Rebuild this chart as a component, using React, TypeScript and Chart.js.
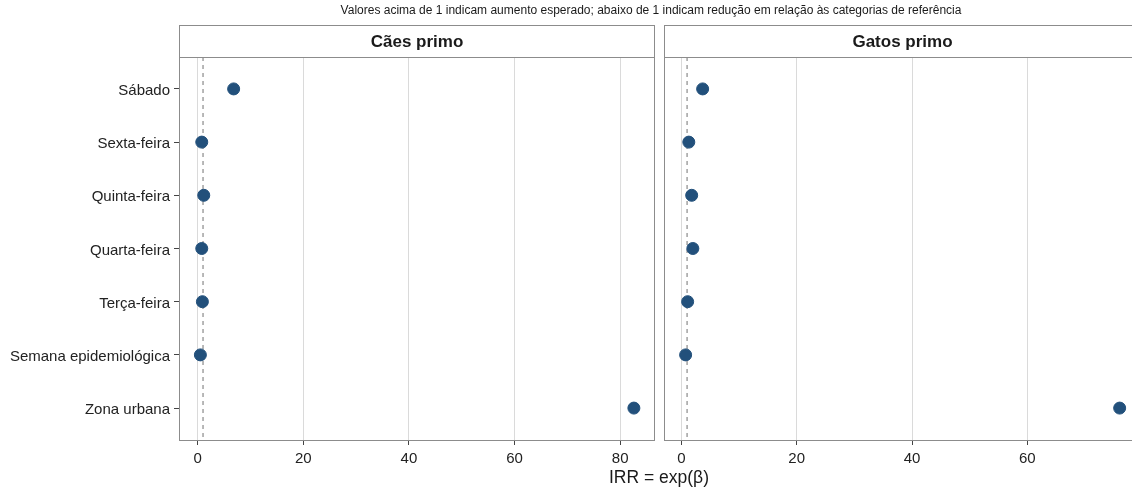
import React, { useEffect, useRef } from "react";
import { Chart, registerables } from "chart.js";

Chart.register(...registerables);

const categories = [
  "Sábado",
  "Sexta-feira",
  "Quinta-feira",
  "Quarta-feira",
  "Terça-feira",
  "Semana epidemiológica",
  "Zona urbana",
];
const caesIRR = [6.8, 0.76, 1.14, 0.76, 0.88, 0.5, 82.6];
const gatosIRR = [3.7, 1.3, 1.8, 2.0, 1.1, 0.75, 76.0];
const panelTitles = ["Cães primo", "Gatos primo"];
const referenceIRR = 1;
const plotTitle =
  "Valores acima de 1 indicam aumento esperado; abaixo de 1 indicam redução em relação às categorias de referência";
const xTitle = "IRR = exp(β)";

const FONT = '"Liberation Sans", Arial, Helvetica, sans-serif';
const CANVAS_W = 1160;
const CANVAS_H = 491;

function makePanel(
  canvas: HTMLCanvasElement,
  values: number[],
  stripTitle: string,
  opts: {
    left: number;
    right: number;
    xmin: number;
    xmax: number;
    showY: boolean;
    drawTitles: boolean;
  }
) {
  const panelPlugin = {
    id: "panelDeco",
    afterDraw(chart: any) {
      const { ctx, chartArea } = chart;
      const { left, right, top, bottom } = chartArea;
      ctx.save();
      // panel border
      ctx.strokeStyle = "#8c8c8c";
      ctx.lineWidth = 1;
      ctx.strokeRect(left + 0.5, top + 0.5, right - left - 1, bottom - top);
      // strip
      const sTop = 25;
      ctx.fillStyle = "#ffffff";
      ctx.fillRect(left, sTop, right - left, top - sTop);
      ctx.strokeRect(left + 0.5, sTop + 0.5, right - left - 1, top - sTop);
      ctx.fillStyle = "#1a1a1a";
      ctx.font = `bold 17px ${FONT}`;
      ctx.textAlign = "center";
      ctx.textBaseline = "middle";
      ctx.fillText(stripTitle, (left + right) / 2, (sTop + top) / 2 + 1);
      if (opts.drawTitles) {
        ctx.font = `12px ${FONT}`;
        ctx.fillStyle = "#1a1a1a";
        ctx.fillText(plotTitle, 651, 11);
        ctx.font = `17.5px ${FONT}`;
        ctx.fillText(xTitle, 659, 478);
      }
      ctx.restore();
    },
  };

  return new Chart(canvas, {
    type: "scatter",
    data: {
      datasets: [
        {
          type: "scatter",
          data: values.map((v, i) => ({ x: v, y: i + 1 })),
          backgroundColor: "#22507b",
          borderColor: "#22507b",
          pointRadius: 6,
          pointHoverRadius: 6,
          order: 0,
        } as any,
        {
          type: "line",
          data: [
            { x: referenceIRR, y: 0.4 },
            { x: referenceIRR, y: 7.6 },
          ],
          borderColor: "#8a8a8a",
          borderWidth: 1.2,
          borderDash: [4, 4],
          pointRadius: 0,
          showLine: true,
          fill: false,
          order: 1,
        } as any,
      ],
    },
    options: {
      responsive: false,
      animation: false,
      devicePixelRatio: 1,
      layout: {
        padding: {
          top: 57,
          bottom: 0,
          left: opts.showY ? 0 : opts.left,
          right: CANVAS_W - opts.right,
        },
      },
      plugins: {
        legend: { display: false },
        tooltip: { enabled: false },
        title: { display: false },
      },
      scales: {
        x: {
          type: "linear",
          min: opts.xmin,
          max: opts.xmax,
          afterFit: (s: any) => {
            s.height = CANVAS_H - 440;
          },
          ticks: {
            stepSize: 20,
            includeBounds: false,
            color: "#222222",
            font: { family: FONT, size: 15 },
            padding: 5,
            maxRotation: 0,
          },
          grid: {
            color: "#dadada",
            lineWidth: 1,
            tickColor: "#444444",
            tickLength: 5,
            drawTicks: true,
          },
          border: { display: false },
        },
        y: {
          type: "linear",
          display: opts.showY,
          reverse: true,
          min: 0.4,
          max: 7.6,
          afterBuildTicks: (s: any) => {
            s.ticks = categories.map((_, i) => ({ value: i + 1 }));
          },
          afterFit: (s: any) => {
            if (opts.showY) s.width = opts.left;
          },
          ticks: {
            callback: (v: any) => categories[Number(v) - 1] ?? "",
            color: "#222222",
            font: { family: FONT, size: 15 },
            padding: 4,
            labelOffset: 2,
          },
          grid: {
            drawOnChartArea: false,
            drawTicks: true,
            tickLength: 5,
            color: "#444444",
          },
          border: { display: false },
        },
      },
    },
    plugins: [panelPlugin],
  } as any);
}

export default function App() {
  const leftRef = useRef<HTMLCanvasElement>(null);
  const rightRef = useRef<HTMLCanvasElement>(null);

  useEffect(() => {
    const c1 = makePanel(leftRef.current!, caesIRR, panelTitles[0], {
      left: 179,
      right: 655,
      xmin: -3.55,
      xmax: 86.6,
      showY: true,
      drawTitles: true,
    });
    const c2 = makePanel(rightRef.current!, gatosIRR, panelTitles[1], {
      left: 664,
      right: 1141,
      xmin: -3.0,
      xmax: 79.7,
      showY: false,
      drawTitles: false,
    });
    return () => {
      c1.destroy();
      c2.destroy();
    };
  }, []);

  const canvasStyle: React.CSSProperties = {
    position: "absolute",
    left: 0,
    top: 0,
    width: CANVAS_W,
    height: CANVAS_H,
  };

  return (
    <div
      style={{
        position: "fixed",
        left: 0,
        top: 0,
        width: 1132,
        height: 491,
        overflow: "hidden",
        background: "#ffffff",
      }}
    >
      <canvas ref={leftRef} width={CANVAS_W} height={CANVAS_H} style={canvasStyle} />
      <canvas ref={rightRef} width={CANVAS_W} height={CANVAS_H} style={canvasStyle} />
    </div>
  );
}
